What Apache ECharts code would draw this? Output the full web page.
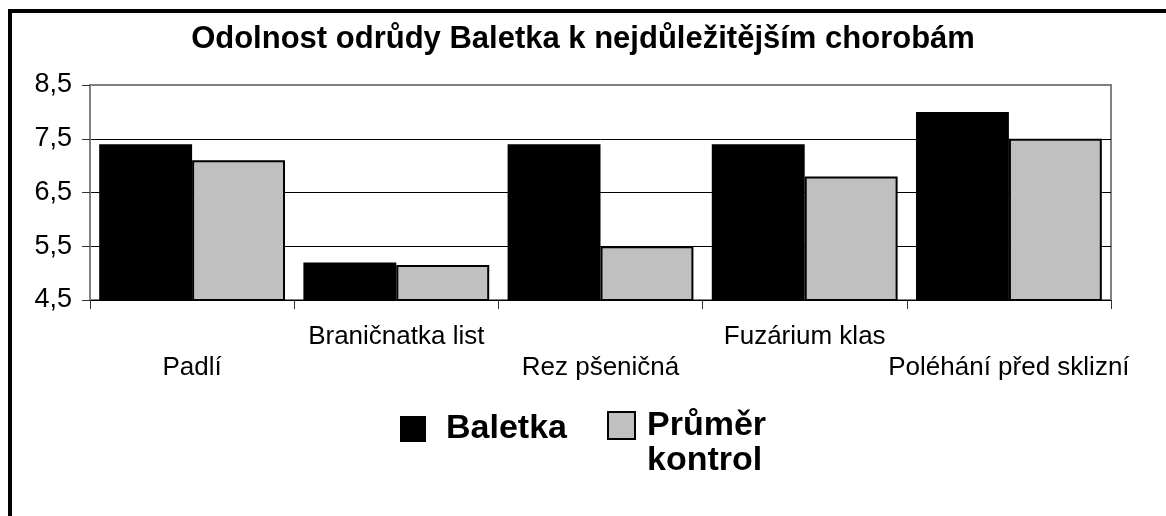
<!DOCTYPE html>
<html>
<head>
<meta charset="utf-8">
<script src="https://cdn.jsdelivr.net/npm/echarts@6/dist/echarts.min.js"></script>
<style>
html,body{margin:0;padding:0;background:#fff;}
#chart{width:1166px;height:516px;}
</style>
</head>
<body>
<div id="chart"></div>
<script>
const titleText = 'Odolnost odrůdy Baletka k nejdůležitějším chorobám';
const categories = ['Padlí', 'Braničnatka list', 'Rez pšeničná', 'Fuzárium klas', 'Poléhání před sklizní'];
const seriesNames = ['Baletka', 'Průměr kontrol'];
const baletka = [7.4, 5.2, 7.4, 7.4, 8.0];
const prumerKontrol = [7.1, 5.15, 5.5, 6.8, 7.5];
const yTicks = [4.5, 5.5, 6.5, 7.5, 8.5];

const FONT = "'Liberation Sans', Arial, sans-serif";
const chart = echarts.init(document.getElementById('chart'), null, {renderer: 'canvas'});

chart.setOption({
  backgroundColor: '#ffffff',
  animation: false,
  textStyle: {fontFamily: FONT, color: '#000'},
  title: {
    text: titleText,
    left: 'center',
    top: 24,
    padding: 0,
    textStyle: {fontFamily: FONT, fontSize: 31, fontWeight: 'bold', color: '#000'}
  },
  graphic: [{
    type: 'rect',
    silent: true,
    shape: {x: 10, y: 11, width: 1300, height: 700},
    style: {fill: 'none', stroke: '#000', lineWidth: 4}
  }],
  legend: [{
    data: [seriesNames[0]],
    left: 400,
    top: 412,
    padding: 0,
    itemWidth: 26,
    itemHeight: 26,
    icon: 'rect',
    textStyle: {fontFamily: FONT, fontSize: 34, fontWeight: 'bold', color: '#000', padding: [0, 0, 0, 15]}
  }, {
    data: [seriesNames[1]],
    left: 607,
    top: 373,
    padding: 0,
    itemWidth: 27,
    itemHeight: 27,
    icon: 'rect',
    formatter: function (name) { return '\n' + name.replace(' ', '\n'); },
    textStyle: {fontFamily: FONT, fontSize: 34, fontWeight: 'bold', color: '#000', lineHeight: 35, padding: [0, 0, 0, 7]}
  }],
  grid: {
    left: 90, right: 55, top: 85, bottom: 216,
    show: true, borderColor: '#808080', borderWidth: 2, backgroundColor: '#fff'
  },
  xAxis: {
    type: 'category',
    data: categories,
    axisLine: {lineStyle: {color: '#000', width: 1}},
    axisTick: {show: true, length: 9, lineStyle: {color: '#333'}},
    axisLabel: {
      interval: 0,
      margin: 21,
      fontFamily: FONT,
      fontSize: 26,
      lineHeight: 31,
      color: '#000',
      formatter: function (v, i) { return i % 2 === 0 ? '\n' + v : v; }
    },
    splitLine: {show: false}
  },
  yAxis: {
    type: 'value',
    min: yTicks[0],
    max: yTicks[yTicks.length - 1],
    axisLine: {show: true, lineStyle: {color: '#808080', width: 2}},
    axisTick: {show: true, length: 8, customValues: yTicks, lineStyle: {color: '#333'}},
    axisLabel: {
      customValues: yTicks,
      margin: 18,
      fontFamily: FONT,
      fontSize: 27,
      color: '#000',
      formatter: function (v) { return String(v).replace('.', ','); }
    },
    splitLine: {show: true, lineStyle: {color: ['#000', '#000', '#000', '#000', '#808080'], width: 1}}
  },
  series: [{
    name: seriesNames[0],
    type: 'bar',
    data: baletka,
    barGap: '0%',
    barCategoryGap: '9%',
    itemStyle: {color: '#000', borderColor: '#000', borderWidth: 0}
  }, {
    name: seriesNames[1],
    type: 'bar',
    data: prumerKontrol,
    barGap: '0%',
    barCategoryGap: '9%',
    itemStyle: {color: '#c0c0c0', borderColor: '#000', borderWidth: 2}
  }]
});
</script>
</body>
</html>
